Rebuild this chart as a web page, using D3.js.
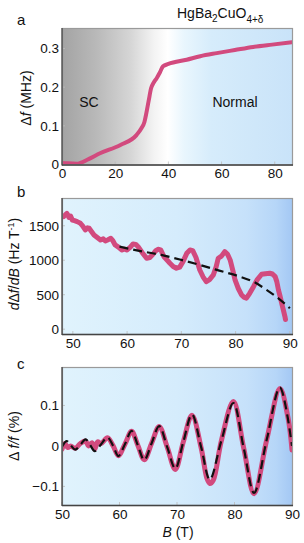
<!DOCTYPE html>
<html><head><meta charset="utf-8">
<script src="https://cdn.jsdelivr.net/npm/d3@7"></script>
<style>
body{margin:0;background:#fff;}
svg{display:block;font-family:"Liberation Sans",Arial,sans-serif;}
</style></head>
<body><svg id="c" width="304" height="543"></svg>
<script>
// ---------- DATA ----------
// Panel a: Δf (MHz) vs B (T)
const aB = [0, 2, 5.5, 10, 14.3, 21.8, 28, 29.8, 31, 31.7, 32.6, 33.5, 34.5, 35.6, 36.8, 38, 40, 46.9, 52, 58.2, 65, 71.9, 79, 86.6];
const aV = [0.004, 0.003, 0.002, 0.014, 0.029, 0.05, 0.076, 0.093, 0.11, 0.132, 0.165, 0.197, 0.212, 0.223, 0.238, 0.254, 0.26, 0.271, 0.28, 0.288, 0.296, 0.304, 0.31, 0.316];
const aXTicks = [0, 20, 40, 60, 80];
const aYTicks = [0, 0.1, 0.2, 0.3];

// Panel b: dΔf/dB (Hz/T) vs B (T)
const bB = [48.3, 48.6, 48.9, 49.3, 49.6, 49.9, 50.3, 50.8, 51.4, 51.8, 52.3, 52.7, 53.0, 53.4, 53.9, 54.5, 55.1, 55.6, 56.0, 56.4, 57.0, 57.4, 57.8, 58.4, 59.0, 59.5, 60.0, 60.6, 61.1, 61.6, 62.0, 62.8, 63.6, 64.2, 64.8, 65.3, 65.7, 66.2, 66.8, 67.4, 67.9, 68.5, 69.1, 69.7, 70.3, 71.0, 71.6, 72.1, 72.7, 73.4, 74.0, 74.6, 75.2, 75.9, 76.4, 76.8, 77.4, 78.0, 78.5, 79.0, 79.5, 79.9, 80.5, 81.1, 81.6, 82.0, 82.6, 83.3, 84.0, 84.8, 85.5, 86.3, 86.8, 87.3, 87.6, 87.9, 88.2, 88.5, 88.8, 89.1, 89.2];
const bV = [1632, 1660, 1681, 1620, 1640, 1584, 1575, 1560, 1536, 1500, 1439, 1470, 1464, 1420, 1367, 1330, 1294, 1310, 1280, 1294, 1319, 1280, 1222, 1190, 1149, 1160, 1149, 1190, 1236, 1230, 1200, 1110, 1029, 1040, 1090, 1140, 1159, 1150, 1050, 1000, 957, 910, 884, 900, 980, 1100, 1149, 1140, 1040, 859, 760, 690, 720, 787, 900, 1029, 1060, 1125, 1090, 1004, 850, 714, 590, 497, 460, 449, 520, 617, 720, 797, 805, 811, 800, 762, 690, 570, 480, 377, 280, 183, 140];
const bFitB = [58.6, 62, 66.3, 70, 73.4, 77, 80.8, 83.5, 85.7, 88, 90];
const bFitV = [1197, 1140, 1077, 1005, 932, 850, 762, 680, 570, 440, 304];
const bXTicks = [50, 60, 70, 80, 90];
const bYTicks = [0, 500, 1000, 1500];

// Panel c: Δf/f (%) vs B (T)
const cFitB = [50, 50.8, 51.5, 52.3, 53.2, 54.1, 54.9, 55.7, 56.8, 57.9, 58.9, 59.8, 61, 62.1, 63.2, 64.3, 65.6, 66.9, 68.3, 69.7, 71.1, 72.6, 74.2, 75.7, 77.7, 79.8, 81.6, 83.4, 85.6, 87.9, 90];
const cFitV = [-0.002, 0.012, 0.002, -0.009, 0.003, 0.016, 0.002, -0.013, 0.004, 0.021, 0.0, -0.025, 0.006, 0.037, 0.001, -0.035, 0.007, 0.049, -0.003, -0.056, 0.01, 0.078, -0.003, -0.083, 0.012, 0.106, -0.005, -0.116, 0.015, 0.144, 0.0];
const cDatB = [50, 50.5, 51, 51.5, 52.3, 53.2, 54.1, 54.6, 55.2, 55.7, 56.2, 56.8, 57.9, 58.9, 59.8, 61, 62.1, 63.2, 64.3, 65.6, 66.9, 68.3, 69.7, 71.1, 72.6, 74.2, 75.2, 75.7, 76.3, 77.7, 79.8, 81.6, 83.4, 85.6, 87.9, 89.3, 90];
const cDatV = [-0.008, 0.006, -0.004, 0.0, -0.006, 0.006, 0.012, 0.0, 0.008, -0.008, 0.01, 0.006, 0.02, 0.0, -0.024, 0.006, 0.036, 0.001, -0.034, 0.007, 0.048, -0.003, -0.058, 0.01, 0.076, -0.005, -0.08, -0.093, -0.085, 0.012, 0.11, -0.005, -0.118, 0.015, 0.142, 0.07, -0.01];
const cXTicks = [50, 60, 70, 80, 90];
const cYTicks = [-0.1, 0, 0.1];

// ---------- DRAW ----------
const svg = d3.select("#c");
const defs = svg.append("defs");
const L = 62, R = 292;
const pink = "#d24a7e";

function grad(id, stops){
  const g = defs.append("linearGradient").attr("id", id).attr("x1","0").attr("x2","1").attr("y1","0").attr("y2","0");
  stops.forEach(s => g.append("stop").attr("offset", s[0]).attr("stop-color", s[1]));
}
grad("ga", [[0,"#a3a3a3"],[0.15,"#b9b9b9"],[0.3,"#d6d6d6"],[0.4,"#f3f3f3"],[0.46,"#ffffff"],[0.53,"#e9f6fd"],[0.65,"#d6ecfb"],[1,"#c9e3f9"]]);
grad("gb", [[0,"#e0f3fd"],[0.5,"#d5ecfc"],[0.8,"#c6e1fa"],[0.93,"#b6d6f8"],[1,"#a4c8f4"]]);

function panel(o){
  const g = svg.append("g");
  const x = d3.scaleLinear().domain(o.xd).range([L, R]);
  const y = d3.scaleLinear().domain(o.yd).range([o.bot, o.top]);
  g.append("rect").attr("x", L).attr("y", o.top).attr("width", R-L).attr("height", o.bot-o.top)
    .attr("fill", `url(#${o.grad})`);
  // faint inward ticks
  const xa = g.append("g").attr("transform", `translate(0,${o.bot})`)
    .call(d3.axisBottom(x).tickValues(o.xt).tickSize(0).tickPadding(4).tickFormat(o.xf || d3.format("d")));
  xa.select(".domain").remove();
  xa.selectAll("text").attr("font-size", "13.5px").attr("fill", "#111").attr("font-family", "Liberation Sans, Arial, sans-serif");
  const ya = g.append("g").attr("transform", `translate(${L-3},0)`)
    .call(d3.axisLeft(y).tickValues(o.yt).tickSize(0).tickPadding(0).tickFormat(o.yf));
  ya.select(".domain").remove();
  ya.selectAll("text").attr("font-size", "13.5px").attr("fill", "#111").attr("font-family", "Liberation Sans, Arial, sans-serif");
  g.append("g").selectAll("line").data(o.xt).join("line")
    .attr("x1", d => x(d)).attr("x2", d => x(d)).attr("y1", o.bot).attr("y2", o.bot-3).attr("stroke", "#bbb").attr("stroke-width", 0.8);
  g.append("g").selectAll("line").data(o.yt).join("line")
    .attr("x1", L).attr("x2", L+3).attr("y1", d => y(d)).attr("y2", d => y(d)).attr("stroke", "#bbb").attr("stroke-width", 0.8);
  const clip = "clip" + o.grad + o.top;
  defs.append("clipPath").attr("id", clip).append("rect").attr("x", L).attr("y", o.top).attr("width", R-L).attr("height", o.bot-o.top);
  const pg = g.append("g").attr("clip-path", `url(#${clip})`);
  o.lines.forEach(ln => {
    const data = ln.xs.map((v,i) => [v, ln.ys[i]]);
    pg.append("path").datum(data)
      .attr("d", d3.line().x(d => x(d[0])).y(d => y(d[1])).curve(ln.curve || d3.curveCatmullRom))
      .attr("fill", "none").attr("stroke", ln.color).attr("stroke-width", ln.w)
      .attr("stroke-dasharray", ln.dash || null).attr("stroke-linecap", ln.dash ? "butt" : "round").attr("stroke-linejoin","round");
  });
  // frame
  g.append("rect").attr("x", L+0.5).attr("y", o.top+0.5).attr("width", R-L).attr("height", o.bot-o.top)
    .attr("fill", "none").attr("stroke", "#9a9a9a").attr("stroke-width", 1.2);
  g.append("line").attr("x1", L).attr("x2", L).attr("y1", o.top).attr("y2", o.bot+1).attr("stroke", "#444").attr("stroke-width", 1.3);
  g.append("line").attr("x1", L).attr("x2", R+1).attr("y1", o.bot+0.5).attr("y2", o.bot+0.5).attr("stroke", "#444").attr("stroke-width", 1.3);
  return {x, y, g};
}

const fmtA = d => d === 0 ? "0" : d3.format(".1f")(d);
const pa = panel({xd:[0,86.5], yd:[0,0.353], top:28, bot:164.5, grad:"ga", xt:aXTicks, yt:aYTicks, yf:fmtA,
  lines:[{xs:aB, ys:aV, color:pink, w:4, curve:d3.curveMonotoneX}]});
const pb = panel({xd:[48,90.4], yd:[-70,1903], top:198, bot:334, grad:"gb", xt:bXTicks, yt:bYTicks, yf:d3.format("d"),
  lines:[{xs:bB, ys:bV, color:pink, w:5, curve:d3.curveLinear},
         {xs:bFitB, ys:bFitV, color:"#111", w:2.2, dash:"9,5", curve:d3.curveMonotoneX}]});
const pc = panel({xd:[50,90], yd:[-0.146,0.195], top:367, bot:505, grad:"gb", xt:cXTicks, yt:cYTicks,
  yf:d => d === 0 ? "0" : (d < 0 ? "\u22120.1" : "0.1"),
  lines:[{xs:cDatB, ys:cDatV, color:pink, w:5},
         {xs:cFitB, ys:cFitV, color:"#111", w:2.2, dash:"9,5"}]});

// texts
function txt(x, y, s, size, anchor){
  return svg.append("text").attr("x", x).attr("y", y).attr("font-size", size+"px").attr("fill","#111")
    .attr("text-anchor", anchor || "start").text(s);
}
txt(17, 25, "a", 15);
txt(17, 197, "b", 15);
txt(17, 369, "c", 15);
txt(89, 107, "SC", 14, "middle");
txt(235, 107, "Normal", 14, "middle");

// title
const t = svg.append("text").attr("x", 177).attr("y", 18).attr("font-size","14px").attr("fill","#111");
t.append("tspan").text("HgBa");
t.append("tspan").attr("font-size","10px").attr("dy", 4).text("2");
t.append("tspan").attr("dy", -4).text("CuO");
t.append("tspan").attr("font-size","10px").attr("dy", 5).text("4+δ");

// y labels
const ya = svg.append("text").attr("transform","translate(31,98) rotate(-90)").attr("text-anchor","middle").attr("font-size","14px").attr("fill","#111");
ya.append("tspan").text("Δ");
ya.append("tspan").attr("font-style","italic").text("f");
ya.append("tspan").text(" (MHz)");

const yb = svg.append("text").attr("transform","translate(19,264) rotate(-90)").attr("text-anchor","middle").attr("font-size","14px").attr("fill","#111");
yb.append("tspan").attr("font-style","italic").text("d");
yb.append("tspan").text("Δ");
yb.append("tspan").attr("font-style","italic").text("f");
yb.append("tspan").text("/");
yb.append("tspan").attr("font-style","italic").text("dB");
yb.append("tspan").text(" (Hz T");
yb.append("tspan").attr("font-size","9px").attr("dy",-5).text("-1");
yb.append("tspan").attr("dy",5).text(")");

const yc = svg.append("text").attr("transform","translate(19,436) rotate(-90)").attr("text-anchor","middle").attr("font-size","14px").attr("fill","#111");
yc.append("tspan").text("Δ ");
yc.append("tspan").attr("font-style","italic").text("f/f");
yc.append("tspan").text(" (%)");

const xl = svg.append("text").attr("x", 178).attr("y", 537).attr("text-anchor","middle").attr("font-size","14px").attr("fill","#111");
xl.append("tspan").attr("font-style","italic").text("B");
xl.append("tspan").text(" (T)");
</script>
</body></html>
